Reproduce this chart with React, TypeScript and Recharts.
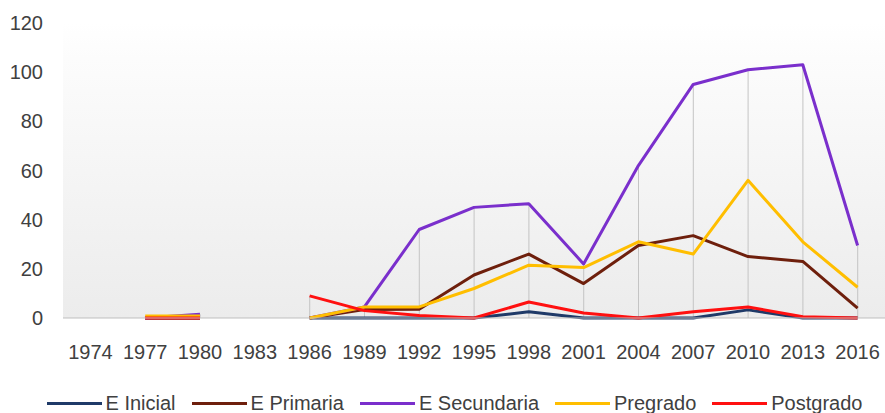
import React from "react"
import {
  ComposedChart,
  Line,
  Bar,
  XAxis,
  YAxis,
  CartesianGrid,
  Legend,
} from "recharts"

const years = ["1974", "1977", "1980", "1983", "1986", "1989", "1992", "1995", "1998", "2001", "2004", "2007", "2010", "2013", "2016"]

const eInicial = [null, 0, 0, null, 0, 0, 0, 0, 2.5, 0, 0, 0, 3.3, 0, 0]
const ePrimaria = [null, 0, 0, null, 0, 3.5, 3.6, 17.5, 26, 14, 29.5, 33.5, 25, 23, 4]
const eSecundaria = [null, 0, 1.5, null, 0, 4.5, 36, 45, 46.5, 22, 62, 95, 101, 103, 29.5]
const pregrado = [null, 0.8, 0.8, null, 0, 4.5, 4.5, 12, 21.5, 20.5, 31, 26, 56, 31, 12.5]
const postgrado = [null, 0, 0, null, 9, 3, 1, 0, 6.5, 2, 0, 2.5, 4.5, 0.5, 0]

const yTicks = [0, 20, 40, 60, 80, 100, 120]

const series = [
  { key: "eInicial", name: "E Inicial", color: "#1f3a68", values: eInicial },
  { key: "ePrimaria", name: "E Primaria", color: "#6e1f0c", values: ePrimaria },
  { key: "eSecundaria", name: "E Secundaria", color: "#7a2fcc", values: eSecundaria },
  { key: "pregrado", name: "Pregrado", color: "#ffbe00", values: pregrado },
  { key: "postgrado", name: "Postgrado", color: "#ff1010", values: postgrado },
]

const data = years.map((year, i) => {
  const row: Record<string, any> = { year }
  let max: number | null = null
  series.forEach((s) => {
    const v = s.values[i]
    row[s.key] = v
    if (v != null) max = max == null ? v : Math.max(max, v)
  })
  row.dropLine = max
  return row
})

const FONT = "'Liberation Sans', Arial, sans-serif"

// legend in series order (recharts would sort it otherwise)
function LegendContent() {
  return (
    <div
      style={{
        display: "flex",
        justifyContent: "center",
        alignItems: "center",
        height: 20,
        paddingLeft: 40,
        fontFamily: FONT,
        fontSize: 20,
        color: "#404040",
      }}
    >
      {series.map((s) => (
        <div key={s.key} style={{ display: "flex", alignItems: "center", marginRight: 16 }}>
          <span style={{ display: "inline-block", width: 55, height: 3, background: s.color, marginRight: 4 }} />
          <span>{s.name}</span>
        </div>
      ))}
    </div>
  )
}

export default function App() {
  return (
    <div style={{ position: "absolute", left: 0, top: 0, width: 885, height: 413, background: "#fff" }}>
      <ComposedChart
        width={885}
        height={413}
        data={data}
        margin={{ top: 23, right: 0, left: 0, bottom: 0 }}
      >
        <defs>
          <linearGradient id="plotBg" x1="0" y1="0" x2="0" y2="1">
            <stop offset="0" stopColor="#ffffff" />
            <stop offset="0.12" stopColor="#fcfcfc" />
            <stop offset="1" stopColor="#ececec" />
          </linearGradient>
        </defs>
        <CartesianGrid horizontal={false} vertical={false} fill="url(#plotBg)" />
        <XAxis
          dataKey="year"
          height={75}
          axisLine={{ stroke: "#bfbfbf", strokeWidth: 1 }}
          tickLine={false}
          tickSize={0}
          tickMargin={27}
          interval={0}
          tick={{ fontSize: 20, fill: "#404040", fontFamily: FONT }}
        />
        <YAxis
          width={63}
          domain={[0, 120]}
          ticks={yTicks}
          axisLine={false}
          tickLine={false}
          tickSize={0}
          tickMargin={20}
          tick={{ fontSize: 20, fill: "#404040", fontFamily: FONT }}
        />
        <Bar
          dataKey="dropLine"
          barSize={1}
          fill="#c4c4c4"
          legendType="none"
          isAnimationActive={false}
        />
        {series.map((s) => (
          <Line
            key={s.key}
            type="linear"
            dataKey={s.key}
            name={s.name}
            stroke={s.color}
            strokeWidth={3}
            strokeLinejoin="round"
            dot={false}
            activeDot={false}
            connectNulls={false}
            isAnimationActive={false}
          />
        ))}
        <Legend verticalAlign="bottom" height={20} content={<LegendContent />} />
      </ComposedChart>
    </div>
  )
}
